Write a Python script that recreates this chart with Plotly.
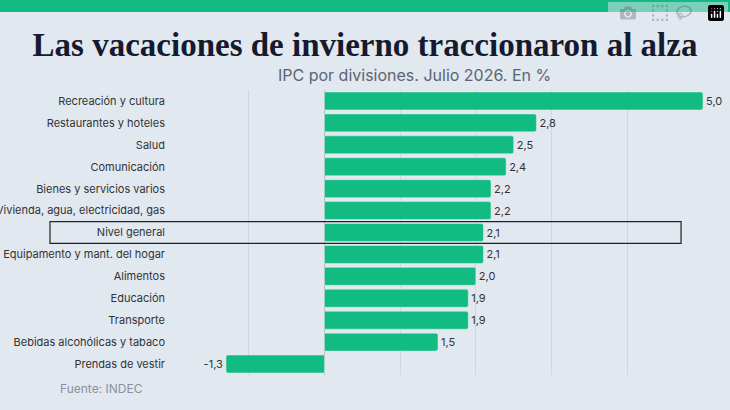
import plotly.graph_objects as go

categories = [
    "Recreación y cultura",
    "Restaurantes y hoteles",
    "Salud",
    "Comunicación",
    "Bienes y servicios varios",
    "Vivienda, agua, electricidad, gas",
    "Nivel general",
    "Equipamento y mant. del hogar",
    "Alimentos",
    "Educación",
    "Transporte",
    "Bebidas alcohólicas y tabaco",
    "Prendas de vestir",
]
values = [5.0, 2.8, 2.5, 2.4, 2.2, 2.2, 2.1, 2.1, 2.0, 1.9, 1.9, 1.5, -1.3]
highlight = "Nivel general"

_BG = "#e1e8f0"
_GREEN = "#12bb82"
_TEXT = "#333333"

labels = [f"{v:.1f}".replace(".", ",") for v in values]

fig = go.Figure(
    go.Bar(
        x=values,
        y=categories,
        orientation="h",
        marker={"color": _GREEN, "cornerradius": 2},
        text=labels,
        textposition="outside",
        cliponaxis=False,
        textfont={"family": "Inter", "size": 11, "color": _TEXT},
    )
)

fig.update_layout(
    width=730,
    height=410,
    paper_bgcolor=_BG,
    plot_bgcolor=_BG,
    font={"family": "Inter", "size": 11, "color": _TEXT},
    margin={"l": 226, "r": 27, "t": 90, "b": 35, "autoexpand": False},
    bargap=0.18,
    showlegend=False,
    title={
        "text": "<b>Las vacaciones de invierno traccionaron al alza</b>",
        "x": 0.5,
        "xref": "container",
        "y": 1 - 44 / 410,
        "yref": "container",
        "yanchor": "middle",
        "font": {"family": "Liberation Serif", "size": 33, "color": "#161a2e"},
    },
)

fig.update_xaxes(
    range=[-1.3, 5.0],
    dtick=1,
    showticklabels=False,
    gridcolor="#cfd6df",
    zeroline=True,
    zerolinecolor="#b8bec6",
    zerolinewidth=1,
    fixedrange=True,
)
fig.update_yaxes(
    autorange="reversed",
    ticklabelstandoff=60,
    tickfont={"size": 11, "color": _TEXT},
    fixedrange=True,
)

row = categories.index(highlight)
fig.add_shape(
    type="rect",
    xref="paper",
    yref="y",
    x0=-0.369,
    x1=0.954,
    y0=row - 0.5,
    y1=row + 0.5,
    line={"color": "#222222", "width": 1.2},
)
fig.add_shape(
    type="rect", xref="paper", yref="paper",
    x0=-1, x1=2, y0=1.0 + 78 / 285, y1=1.5,
    fillcolor="#14b983", line={"width": 0},
)
fig.add_annotation(
    text="IPC por divisiones. Julio 2026. En %",
    xref="paper", yref="paper", x=0.5 - 50 / 477, y=1.0 + 15 / 285,
    xanchor="center", yanchor="middle",
    showarrow=False,
    font={"family": "Inter", "size": 16, "color": "#5c6470"},
)
fig.add_annotation(
    text="Fuente: INDEC",
    xref="paper", yref="paper", x=(58 - 226) / 477, y=-0.047,
    xanchor="left", yanchor="middle",
    showarrow=False,
    font={"family": "Inter", "size": 12, "color": "#8a929c"},
)

fig.write_html(
    "out.html",
    post_script="document.body.style.margin='0';document.body.style.background='#e1e8f0';",
)
